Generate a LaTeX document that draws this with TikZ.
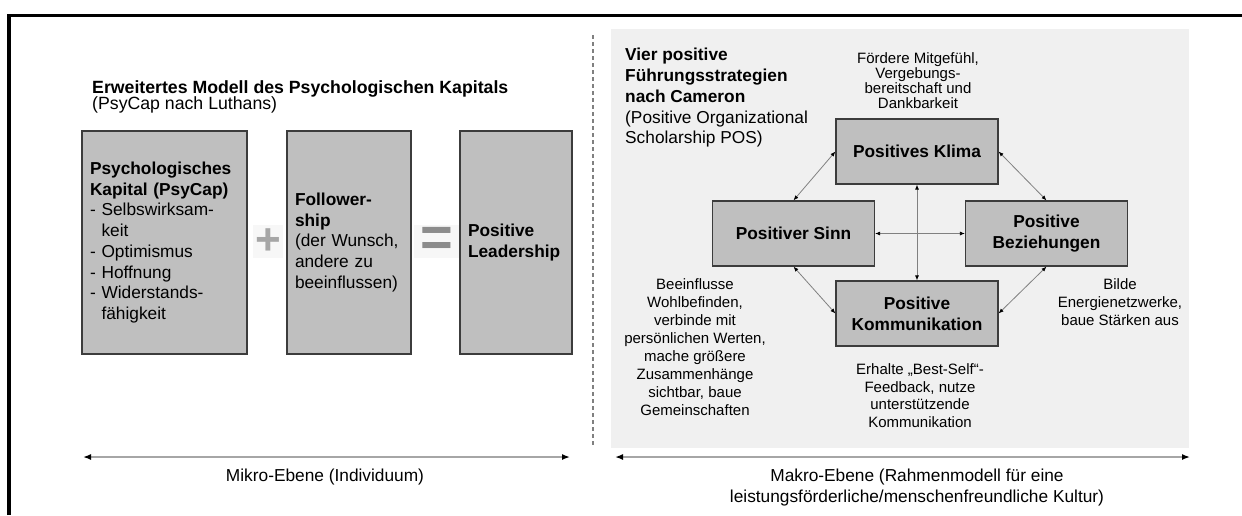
\documentclass[tikz,border=0pt]{standalone}
\usepackage{fontspec}
\setmainfont{Liberation Sans}
\usetikzlibrary{arrows.meta}
\definecolor{boxgray}{HTML}{BFBFBF}
\definecolor{rimgray}{HTML}{3C3C3C}
\definecolor{panelgray}{HTML}{F0F0F0}
\definecolor{linegray}{HTML}{808080}
\newcommand{\engzeilen}{\lineskiplimit=-10pt\relax}
\begin{document}
\begin{tikzpicture}[x=1pt, y=-1pt,
  kasten/.style={draw=rimgray, line width=1.2pt, fill=boxgray, inner xsep=8pt, inner ysep=0pt, minimum height=223pt, align=left, font=\fontsize{17.3}{20.7}\selectfont},
  feld/.style={draw=rimgray, line width=1.2pt, fill=boxgray, minimum width=162pt, minimum height=65pt, align=center, font=\fontsize{17.3}{20.8}\selectfont\bfseries},
  notiz/.style={align=center, inner sep=0pt, font=\fontsize{15}{18}\selectfont},
  zeichen/.style={fill=black!3, inner sep=0pt, minimum height=33pt, font=\fontsize{44}{44}\selectfont\bfseries},
  pfeil/.style={draw=linegray, line width=0.8pt, {Latex[color=black,length=5pt,width=4pt]}-{Latex[color=black,length=5pt,width=4pt]}},
  ebene/.style={draw=black!35, line width=1.5pt, {Latex[color=black,length=8pt,width=6pt]}-{Latex[color=black,length=8pt,width=6pt]}}
]
\useasboundingbox (0,0) rectangle (1242,515);
\draw[line width=3.5pt] (9,515) -- (9,15.5) -- (1242,15.5);
\fill[panelgray] (611,29) rectangle (1189,448);
\draw[linegray, line width=1.2pt, dash pattern=on 4pt off 3pt] (593,35) -- (593,447);

\node[anchor=west, align=left, inner sep=0pt, font=\fontsize{17.7}{16.5}\selectfont\engzeilen] (titelL) at (92,97) {\textbf{Erweitertes Modell des Psychologischen Kapitals}\\(PsyCap nach Luthans)};
\node[kasten, text width=149pt] (psycap) at (164.5,242.5) {\textbf{Psychologisches}\\\textbf{Kapital (PsyCap)}\\- Selbswirksam-\\\phantom{- }keit\\- Optimismus\\- Hoffnung\\- Widerstands-\\\phantom{- }fähigkeit};
\node[zeichen, minimum width=30pt, text=black!35] (plus) at (268,241.5) {+};
\node[kasten, text width=108pt] (follow) at (349,242.5) {\textbf{Follower-}\\\textbf{ship}\\(der Wunsch,\\andere zu\\beeinflussen)};
\node[zeichen, minimum width=46pt, text=black!45, font=\fontsize{56}{56}\selectfont\bfseries] (gleich) at (437,241.5) {=};
\node[kasten, text width=96pt, font=\fontsize{17.3}{20.7}\selectfont\bfseries] (leader) at (516,242.5) {Positive\\Leadership};

\node[anchor=west, align=left, inner sep=0pt, font=\fontsize{17.3}{20.75}\selectfont] (titelR) at (625,98) {\textbf{Vier positive}\\\textbf{Führungsstrategien}\\\textbf{nach Cameron}\\(Positive Organizational\\Scholarship POS)};
\node[feld] (klima) at (917,151.5) {Positives Klima};
\node[feld] (sinn) at (793.5,233.5) {Positiver Sinn};
\node[feld] (bezieh) at (1046.5,233.5) {Positive\\Beziehungen};
\node[feld] (komm) at (917,313.5) {Positive\\Kommunikation};
\draw[pfeil] (klima.west) -- (sinn.north);
\draw[pfeil] (klima.east) -- (bezieh.north);
\draw[pfeil] (sinn.south) -- (komm.west);
\draw[pfeil] (bezieh.south) -- (komm.east);
\draw[pfeil] (klima.south) -- (komm.north);
\draw[pfeil] (sinn.east) -- (bezieh.west);

\node[notiz, font=\fontsize{15}{15}\selectfont\engzeilen] (foerdern) at (918,81) {Fördere Mitgefühl,\\Vergebungs-\\bereitschaft und\\Dankbarkeit};
\node[notiz] (einfluss) at (695,347.5) {Beeinflusse\\Wohlbefinden,\\verbinde mit\\persönlichen Werten,\\mache größere\\Zusammenhänge\\sichtbar, baue\\Gemeinschaften};
\node[notiz] (netzwerk) at (1120,302.5) {Bilde\\Energienetzwerke,\\baue Stärken aus};
\node[notiz, font=\fontsize{15}{17.5}\selectfont] (feedback) at (920,395.5) {Erhalte „Best-Self“-\\Feedback, nutze\\unterstützende\\Kommunikation};

\coordinate (mikroL) at (83,457);
\coordinate (mikroR) at (570,457);
\draw[ebene] (mikroL) -- (mikroR);
\node[inner sep=0pt, font=\fontsize{17.3}{21}\selectfont] (mikro) at (325,477) {Mikro-Ebene (Individuum)};
\coordinate (makroL) at (615,457);
\coordinate (makroR) at (1190,457);
\draw[ebene] (makroL) -- (makroR);
\node[align=center, inner sep=0pt, font=\fontsize{17.3}{21}\selectfont] (makro) at (917,488) {Makro-Ebene (Rahmenmodell für eine\\leistungsförderliche/menschenfreundliche Kultur)};
\end{tikzpicture}
\end{document}
